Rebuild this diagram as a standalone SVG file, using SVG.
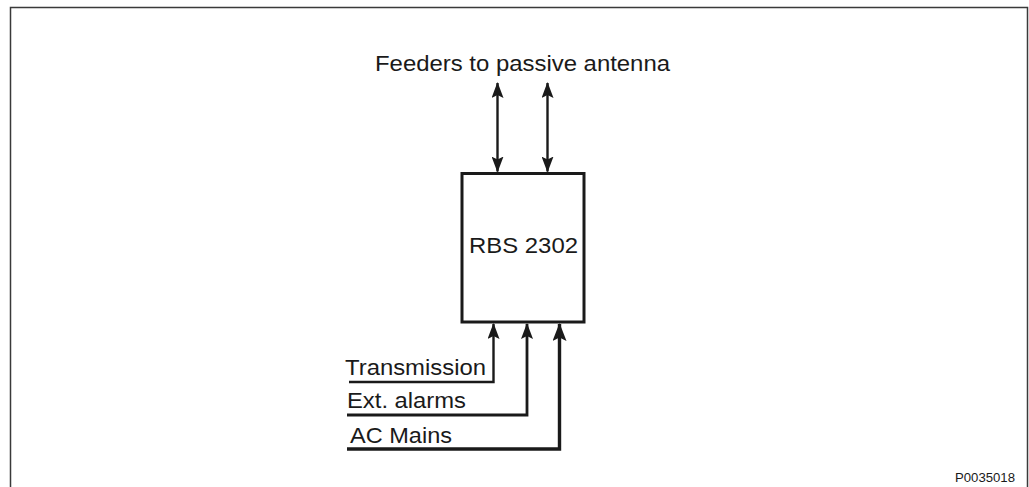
<svg xmlns="http://www.w3.org/2000/svg" width="1029" height="487" viewBox="0 0 1029 487">
<style>
  text { font-family: "Liberation Sans", Arial, sans-serif; fill: #1a1a1a; }
  .conn { fill: none; stroke: #1a1a1a; stroke-linejoin: miter; }
</style>
<defs>
  <marker id="ah" viewBox="0 0 16 12" refX="15" refY="6" markerWidth="16" markerHeight="12" orient="auto-start-reverse" markerUnits="userSpaceOnUse">
    <path d="M0,0 L16,6 L0,12 L3,6 Z" fill="#1a1a1a"/>
  </marker>
  <marker id="ahBig" viewBox="0 0 18 14" refX="17" refY="7" markerWidth="18" markerHeight="14" orient="auto" markerUnits="userSpaceOnUse">
    <path d="M0,0 L18,7 L0,14 L3.5,7 Z" fill="#1a1a1a"/>
  </marker>
</defs>
<rect x="0" y="0" width="1029" height="487" fill="#ffffff"/>
<path d="M10.5,495 V7.5 H1027.5 V495" fill="none" stroke="#3a3a3a" stroke-width="1.5"/>

<g id="title">
  <text x="375" y="71" font-size="22" textLength="295" lengthAdjust="spacingAndGlyphs">Feeders to passive antenna</text>
</g>

<g id="rbs">
  <rect x="462" y="173.5" width="122" height="148.5" fill="#ffffff" stroke="#1a1a1a" stroke-width="3"/>
  <text x="469" y="253" font-size="22.5" textLength="109" lengthAdjust="spacingAndGlyphs">RBS 2302</text>
</g>

<g id="labels">
  <text x="345" y="375" font-size="22" textLength="141" lengthAdjust="spacingAndGlyphs">Transmission</text>
  <text x="347" y="408" font-size="22" textLength="119" lengthAdjust="spacingAndGlyphs">Ext. alarms</text>
  <text x="350" y="443" font-size="22" textLength="102" lengthAdjust="spacingAndGlyphs">AC Mains</text>
  <text x="955" y="482" font-size="12" textLength="60" lengthAdjust="spacingAndGlyphs">P0035018</text>
</g>

<g id="connectors">
  <line class="conn" x1="497.5" y1="83" x2="497.5" y2="171.5" stroke-width="2.4" marker-start="url(#ah)" marker-end="url(#ah)"/>
  <line class="conn" x1="547.5" y1="83" x2="547.5" y2="171.5" stroke-width="2.4" marker-start="url(#ah)" marker-end="url(#ah)"/>
  <path class="conn" d="M349,382 H493.5 V324" stroke-width="2.4" marker-end="url(#ah)"/>
  <path class="conn" d="M347,415 H527 V324" stroke-width="2.8" marker-end="url(#ah)"/>
  <path class="conn" d="M347,449 H559.5 V324" stroke-width="3.4" marker-end="url(#ahBig)"/>
</g>
</svg>
